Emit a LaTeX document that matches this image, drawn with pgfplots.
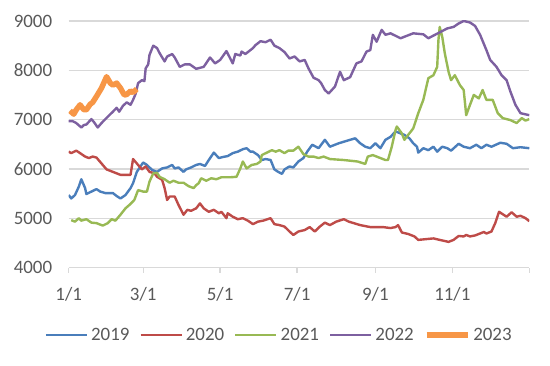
\documentclass[border=0pt]{standalone}
\usepackage{fontspec}
\setmainfont{Carlito}
\usepackage{pgfplots}
\pgfplotsset{compat=1.18}
\definecolor{c19}{HTML}{4A7EBB}
\definecolor{c20}{HTML}{BE4B48}
\definecolor{c21}{HTML}{98B954}
\definecolor{c22}{HTML}{7D60A0}
\definecolor{c23}{HTML}{F79646}
\definecolor{txt}{HTML}{595959}
\definecolor{grd}{HTML}{D9D9D9}
\begin{document}
\begin{tikzpicture}[x=1bp,y=1bp]
\useasboundingbox (0,0) rectangle (550,365);
\begin{axis}[
  at={(68.7bp,97.5bp)}, anchor=south west,
  scale only axis, width=460.6bp, height=246.5bp,
  xmin=0, xmax=365, ymin=4000, ymax=9000,
  axis line style={draw=none},
  ymajorgrids, grid style={grd, line width=1.3bp},
  ytick={4000,5000,6000,7000,8000,9000},
  xtick={0,59,120,181,243,304,365},
  xticklabels={1/1,3/1,5/1,7/1,9/1,11/1,{}},
  xtick pos=left, ytick pos=left,
  tick align=outside,
  x tick style={grd, line width=1.3bp}, major tick length=5bp,
  y tick style={draw=none},
  ticklabel style={font=\fontsize{19}{22}\selectfont, text=txt},
  /pgf/number format/assume math mode=true,
  /pgf/number format/1000 sep={},
  xticklabel style={yshift=-11bp},
  yticklabel style={xshift=-8bp},
  legend columns=5,
  legend style={draw=none, fill=none, at={(0.457,-0.274)}, anchor=center,
    font=\fontsize{19}{22}\selectfont, text=txt,
    /tikz/every even column/.append style={column sep=8bp},
    /tikz/every odd column/.append style={column sep=1bp}},
  legend image code/.code={\draw[#1] (0bp,0bp) -- (41bp,0bp);},
  every axis plot/.append style={line width=2.4bp, line join=round},
]
\addplot[c19] coordinates {(0,5470)(2,5400)(5,5470)(8,5640)(10,5790)(13,5610)(14,5490)(18,5540)(22,5590)(25,5540)(29,5510)(35,5510)(38,5450)(41,5400)(45,5470)(49,5610)(51,5710)(54,5940)(59,6130)(62,6080)(66,5980)(70,5940)(74,6010)(78,6030)(82,6080)(84,6010)(87,6030)(91,5940)(93,5990)(97,6030)(101,6080)(104,6100)(108,6060)(111,6180)(115,6330)(119,6220)(122,6240)(126,6260)(130,6320)(134,6350)(138,6400)(141,6420)(144,6350)(146,6350)(150,6280)(153,6180)(156,6200)(160,6180)(163,5990)(166,5940)(169,5900)(171,5990)(175,6050)(178,6030)(182,6150)(186,6220)(189,6350)(193,6490)(198,6420)(203,6590)(207,6450)(214,6520)(223,6590)(227,6620)(231,6520)(235,6450)(239,6420)(243,6520)(247,6420)(251,6590)(255,6650)(259,6760)(263,6720)(266,6690)(270,6620)(273,6520)(276,6450)(277,6330)(281,6420)(285,6380)(289,6450)(292,6350)(296,6450)(300,6420)(303,6370)(309,6510)(313,6450)(318,6420)(323,6490)(327,6420)(331,6490)(335,6450)(342,6530)(347,6510)(352,6420)(358,6440)(365,6420)};
\addlegendentry{2019}
\addplot[c20] coordinates {(0,6350)(2,6320)(6,6370)(9,6320)(13,6250)(16,6220)(19,6250)(22,6230)(26,6110)(30,5990)(35,5940)(41,5880)(45,5880)(49,5880)(51,6200)(54,6110)(58,5990)(61,6050)(64,5940)(68,5910)(70,5840)(74,5780)(76,5610)(78,5370)(80,5440)(84,5440)(87,5270)(91,5070)(94,5170)(97,5150)(101,5200)(104,5300)(107,5200)(111,5130)(115,5170)(119,5100)(121,5130)(125,5000)(126,5100)(130,5030)(134,4980)(138,5000)(142,4950)(146,4880)(150,4930)(154,4950)(160,5000)(163,4880)(167,4860)(171,4830)(175,4730)(178,4660)(182,4730)(187,4760)(191,4820)(195,4730)(199,4830)(203,4910)(207,4860)(212,4930)(218,4980)(222,4930)(231,4860)(239,4820)(249,4820)(255,4800)(259,4820)(261,4860)(264,4710)(269,4680)(274,4630)(277,4560)(281,4570)(289,4590)(294,4560)(301,4520)(305,4560)(309,4640)(313,4630)(315,4660)(318,4630)(322,4650)(329,4720)(331,4690)(335,4730)(338,4900)(341,5130)(344,5080)(347,5030)(351,5120)(355,5030)(358,5050)(362,5000)(365,4940)};
\addlegendentry{2020}
\addplot[c21] coordinates {(2,4960)(5,4930)(8,5000)(10,4950)(14,4980)(18,4910)(22,4900)(27,4850)(31,4900)(34,4980)(37,4950)(41,5070)(45,5200)(49,5290)(52,5370)(55,5570)(59,5540)(62,5540)(64,5740)(67,5910)(70,5920)(72,5840)(76,5790)(80,5720)(83,5760)(87,5720)(91,5720)(95,5650)(99,5610)(101,5670)(103,5710)(105,5810)(109,5760)(113,5810)(117,5790)(121,5830)(128,5830)(133,5840)(136,6010)(138,6150)(141,6010)(145,6080)(149,6100)(152,6150)(153,6280)(157,6330)(161,6380)(164,6350)(167,6380)(171,6320)(174,6370)(178,6370)(182,6450)(186,6300)(190,6250)(194,6250)(198,6220)(202,6250)(207,6200)(218,6180)(229,6150)(235,6100)(237,6250)(241,6280)(251,6180)(253,6180)(256,6450)(259,6790)(260,6860)(264,6720)(266,6590)(269,6690)(273,6820)(277,7130)(281,7400)(285,7840)(289,7900)(292,8070)(293,8620)(294,8880)(296,8680)(298,8350)(301,7970)(303,7800)(306,7900)(310,7700)(313,7600)(315,7090)(318,7300)(321,7500)(325,7430)(328,7600)(331,7400)(336,7400)(340,7130)(344,7030)(350,6990)(355,6930)(359,7030)(362,6980)(365,7010)};
\addlegendentry{2021}
\addplot[c22] coordinates {(0,6970)(3,6970)(6,6930)(10,6840)(12,6890)(14,6900)(18,7010)(20,6950)(23,6840)(26,6930)(31,7060)(35,7160)(38,7240)(40,7160)(43,7280)(46,7350)(49,7300)(51,7400)(53,7520)(55,7740)(58,7800)(60,7780)(61,8040)(63,8120)(64,8310)(67,8500)(70,8450)(72,8350)(76,8180)(78,8280)(82,8330)(84,8260)(88,8070)(92,8120)(96,8120)(101,8030)(107,8070)(112,8260)(116,8140)(120,8210)(125,8390)(130,8140)(132,8330)(136,8300)(137,8380)(140,8330)(144,8410)(146,8450)(148,8510)(152,8590)(156,8570)(160,8620)(163,8500)(167,8450)(171,8370)(175,8240)(179,8280)(183,8180)(187,8210)(190,8040)(194,7850)(198,7800)(200,7740)(203,7600)(206,7530)(211,7670)(215,7970)(218,7800)(223,7860)(228,8140)(232,8180)(236,8380)(239,8410)(241,8720)(244,8580)(248,8820)(251,8720)(255,8750)(263,8650)(273,8750)(281,8730)(285,8650)(294,8770)(300,8850)(305,8880)(309,8950)(313,9000)(318,8970)(322,8900)(326,8720)(331,8410)(334,8210)(339,8070)(343,7900)(347,7800)(350,7570)(354,7300)(358,7130)(365,7090)};
\addlegendentry{2022}
\addplot[c23, line width=5.5bp] coordinates {(1,7180)(4,7110)(6,7200)(9,7300)(12,7200)(14,7200)(17,7310)(19,7350)(22,7470)(26,7640)(30,7870)(33,7740)(35,7700)(38,7740)(41,7640)(44,7500)(46,7510)(49,7580)(51,7550)(54,7620)};
\addlegendentry{2023}
\end{axis}
\end{tikzpicture}
\end{document}
